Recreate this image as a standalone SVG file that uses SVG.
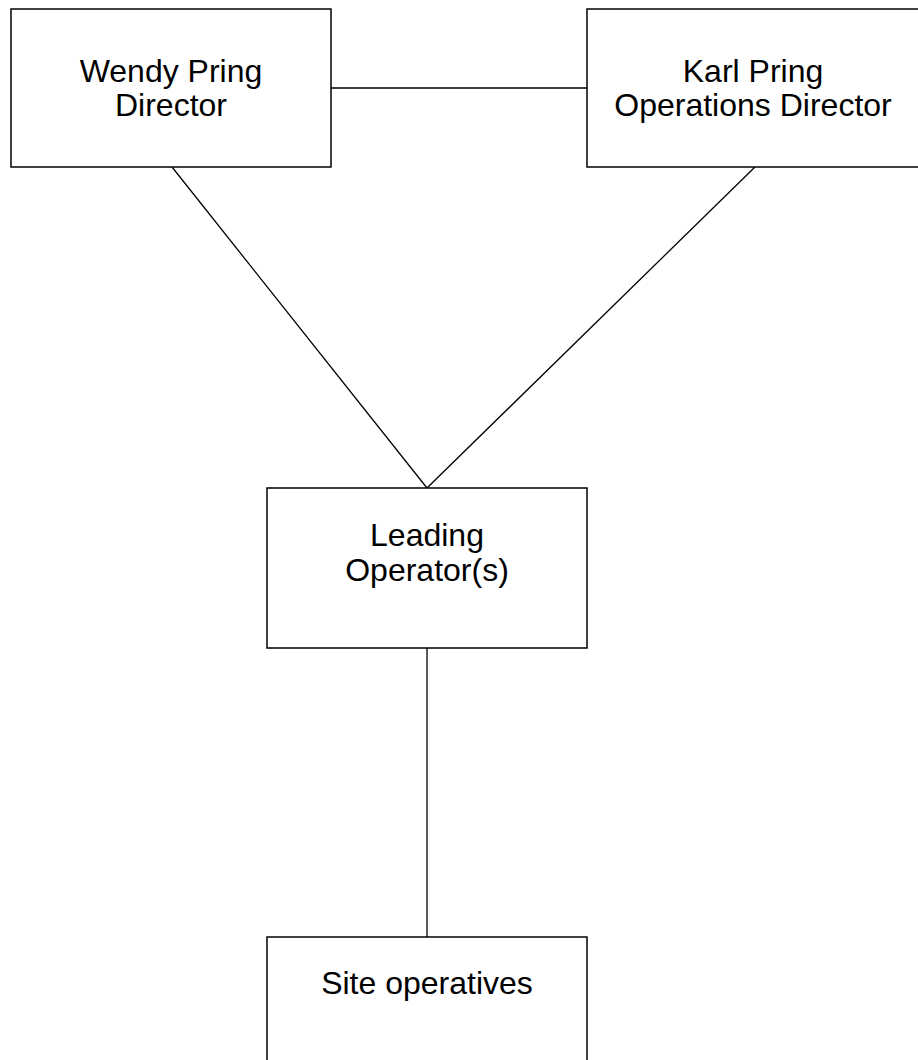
<svg xmlns="http://www.w3.org/2000/svg" width="918" height="1060" viewBox="0 0 918 1060">
<style>
.box{fill:#fff;stroke:#000;stroke-width:1.5}
.lbl{font-family:"Liberation Sans",Arial,sans-serif;font-size:32px;fill:#000;text-anchor:middle}
.con{stroke:#000;stroke-width:1.3;fill:none}
</style>
<rect width="918" height="1060" fill="#fff"/>
<g id="connectors">
<line class="con" x1="331" y1="88" x2="587" y2="88"/>
<line class="con" x1="172" y1="167" x2="427" y2="488"/>
<line class="con" x1="755" y1="167" x2="427" y2="488"/>
<line class="con" x1="427" y1="648" x2="427" y2="937"/>
</g>
<g id="wendy">
<rect class="box" x="11" y="9" width="320" height="158"/>
<text class="lbl" x="171" y="82">Wendy Pring</text>
<text class="lbl" x="171" y="116">Director</text>
</g>
<g id="karl">
<rect class="box" x="587" y="9" width="335" height="158"/>
<text class="lbl" x="753" y="82">Karl Pring</text>
<text class="lbl" x="753" y="116">Operations Director</text>
</g>
<g id="leading">
<rect class="box" x="267" y="488" width="320" height="160"/>
<text class="lbl" x="427" y="546">Leading</text>
<text class="lbl" x="427" y="581">Operator(s)</text>
</g>
<g id="site">
<rect class="box" x="267" y="937" width="320" height="140"/>
<text class="lbl" x="427" y="994">Site operatives</text>
</g>
</svg>
